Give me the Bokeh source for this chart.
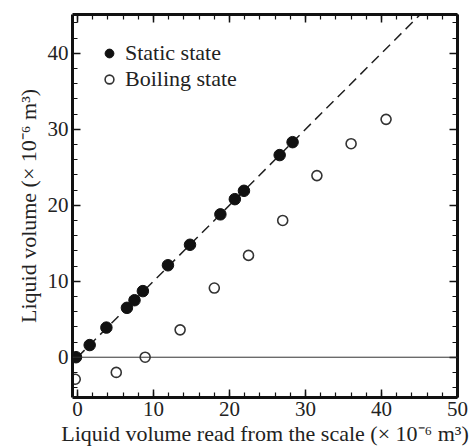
from bokeh.plotting import figure
from bokeh.models import FixedTicker, LinearAxis, Span, Range1d
from bokeh.embed import file_html
from bokeh.resources import INLINE

# Data
static_x = [-0.2, 1.6, 3.8, 6.5, 7.5, 8.6, 11.9, 14.8, 18.8, 20.7, 21.9, 26.6, 28.3]
static_y = [0.0, 1.6, 3.9, 6.5, 7.5, 8.7, 12.1, 14.8, 18.8, 20.8, 21.9, 26.6, 28.3]
boiling_x = [-0.3, 5.1, 8.9, 13.5, 18.0, 22.5, 27.0, 31.5, 36.0, 40.6]
boiling_y = [-2.9, -2.0, 0.0, 3.6, 9.1, 13.4, 18.0, 23.9, 28.1, 31.3]
ref_line = [0, 50]          # y = x reference line
x_major = [0, 10, 20, 30, 40, 50]
y_major = [0, 10, 20, 30, 40]
x_minor = list(range(0, 51, 2))
y_minor = list(range(-4, 46, 2))

FONT = "Liberation Serif"

p = figure(width=474, height=448, output_backend="svg", toolbar_location=None,
           x_range=Range1d(-0.66, 50), y_range=Range1d(-5.3, 45.1),
           min_border_left=72, min_border_right=17, min_border_top=14,
           min_border_bottom=51)
p.outline_line_color = None
p.grid.visible = False
p.background_fill_color = "white"
p.border_fill_color = "white"

bottom_ax = p.below[0]
left_ax = p.left[0]

p.add_layout(Span(location=0, dimension="width", line_color="#333333", line_width=1))
p.line(ref_line, ref_line, line_color="#222222", line_width=1.5, line_dash="10 6")

p.scatter(static_x, static_y, marker="circle", size=11.5, fill_color="#111111",
          line_color="#111111", legend_label="Static state")
p.scatter(boiling_x, boiling_y, marker="circle", size=10, fill_color="white",
          line_color="#333333", line_width=1.6, legend_label="Boiling state")

top_ax = LinearAxis()
right_ax = LinearAxis()
p.add_layout(top_ax, "above")
p.add_layout(right_ax, "right")

for ax in [bottom_ax, top_ax]:
    ax.ticker = FixedTicker(ticks=x_major, minor_ticks=x_minor)
for ax in [left_ax, right_ax]:
    ax.ticker = FixedTicker(ticks=y_major, minor_ticks=y_minor)

for ax in [bottom_ax, left_ax, top_ax, right_ax]:
    ax.axis_line_width = 3
    ax.axis_line_color = "#111111"
    ax.major_tick_in = 8
    ax.major_tick_out = 0
    ax.minor_tick_in = 5
    ax.minor_tick_out = 0
    ax.major_tick_line_width = 1.5
    ax.minor_tick_line_width = 1.2
    ax.major_tick_line_color = "#111111"
    ax.minor_tick_line_color = "#111111"
    ax.major_label_text_font = FONT
    ax.major_label_text_font_size = "21px"
    ax.major_label_text_color = "#222222"
    ax.major_label_standoff = 4

for ax in [top_ax, right_ax]:
    ax.major_label_text_color = None
    ax.major_label_text_font_size = "1px"
    ax.major_label_standoff = 0

bottom_ax.axis_label = "Liquid volume read from the scale (\u00d7 10\u207b\u2076 m\u00b3)"
left_ax.axis_label = "Liquid volume (\u00d7 10\u207b\u2076 m\u00b3)"
for ax in [bottom_ax, left_ax]:
    ax.axis_label_text_font = FONT
    ax.axis_label_text_font_size = "22px"
    ax.axis_label_text_font_style = "normal"
    ax.axis_label_text_color = "#222222"
    ax.axis_label_standoff = 2
left_ax.axis_label_standoff = 4

lg = p.legend[0]
lg.location = "top_left"
lg.margin = 26
lg.padding = 0
lg.border_line_color = None
lg.background_fill_alpha = 0
lg.label_text_font = FONT
lg.label_text_font_size = "22px"
lg.label_text_color = "#222222"
lg.label_height = 26
lg.glyph_height = 22
lg.glyph_width = 22
lg.spacing = 0
lg.label_standoff = 5

open("out.html", "w").write(file_html(p, INLINE))
